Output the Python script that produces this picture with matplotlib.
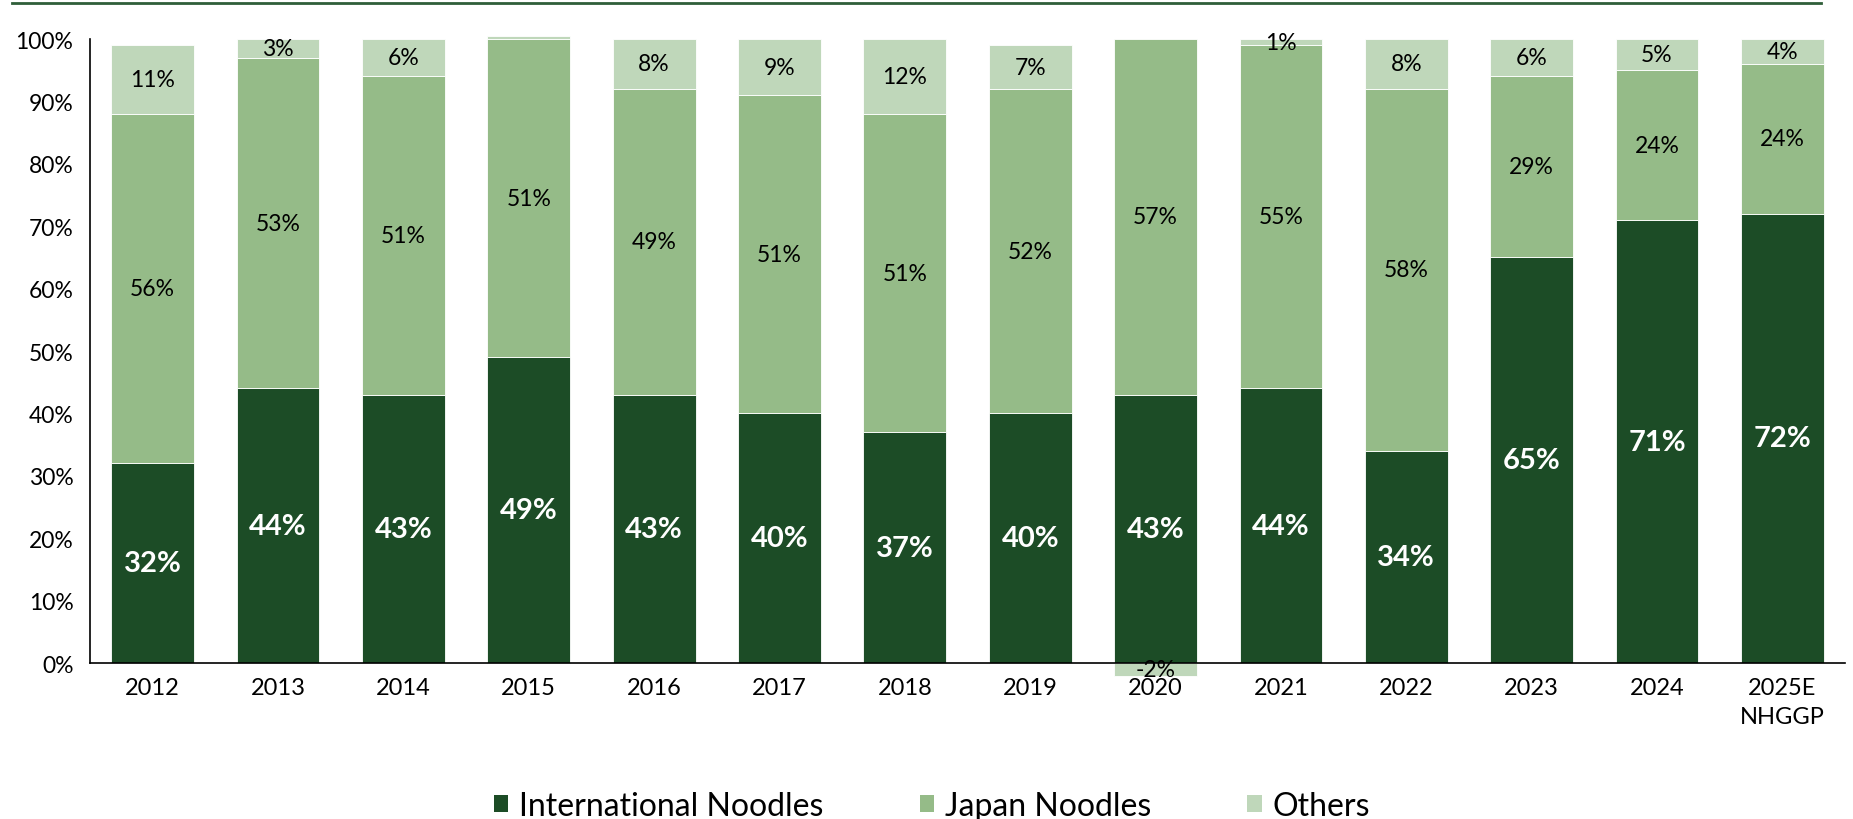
import matplotlib
matplotlib.use("Agg")
import matplotlib.pyplot as plt
from matplotlib.lines import Line2D
from matplotlib.patches import Patch
import numpy as np

plt.rcParams["font.family"] = ["Lato", "DejaVu Sans"]

YEARS = ["2012", "2013", "2014", "2015", "2016", "2017", "2018", "2019",
         "2020", "2021", "2022", "2023", "2024", "2025E\nNHGGP"]
INTERNATIONAL = [32, 44, 43, 49, 43, 40, 37, 40, 43, 44, 34, 65, 71, 72]
JAPAN = [56, 53, 51, 51, 49, 51, 51, 52, 57, 55, 58, 29, 24, 24]
OTHERS = [11, 3, 6, 0.5, 8, 9, 12, 7, -2, 1, 8, 6, 5, 4]

SERIES = ["International Noodles", "Japan Noodles", "Others"]
COLORS = ["#1C4C26", "#95BB88", "#BFD7BA"]

fig = plt.figure(figsize=(18.53, 8.2), dpi=100)
ax = fig.add_axes([0.0486, 0.1902, 0.9471, 0.761])

x = np.arange(len(YEARS))
intl = np.array(INTERNATIONAL, float)
jap = np.array(JAPAN, float)
oth = np.array(OTHERS, float)
oth_bottom = np.where(oth >= 0, intl + jap, 0)

w = 0.66
kw = dict(width=w, edgecolor="white", linewidth=0.6, clip_on=False, zorder=2)
b1 = ax.bar(x, intl, color=COLORS[0], **kw)
b2 = ax.bar(x, jap, bottom=intl, color=COLORS[1], **kw)
b3 = ax.bar(x, oth, bottom=oth_bottom, color=COLORS[2], **kw)

# segment labels, centred in each segment
for i in x:
    ax.text(i, intl[i] / 2, f"{intl[i]:.0f}%", ha="center", va="center",
            color="white", fontsize=21, fontweight="bold", zorder=3)
    ax.text(i, intl[i] + jap[i] / 2, f"{jap[i]:.0f}%", ha="center",
            va="center", color="black", fontsize=16.5, zorder=3)
    if abs(oth[i]) >= 1:
        ax.text(i, oth_bottom[i] + oth[i] / 2, f"{oth[i]:.0f}%",
                ha="center", va="center", color="black", fontsize=16.5,
                zorder=3)

ax.set_xlim(-0.5, len(YEARS) - 0.5)
ax.set_ylim(0, 100)
ax.set_yticks(range(0, 101, 10))
ax.set_yticklabels([f"{v}%" for v in range(0, 101, 10)])
ax.set_xticks(x)
ax.set_xticklabels(YEARS, linespacing=1.5)
ax.tick_params(axis="both", length=0)
ax.tick_params(axis="y", pad=12, labelsize=16.5)
ax.tick_params(axis="x", pad=10, labelsize=17)
for s in ["top", "right"]:
    ax.spines[s].set_visible(False)
ax.spines["left"].set_linewidth(1.2)
ax.spines["bottom"].set_linewidth(1.2)
ax.spines["bottom"].set_zorder(4)

# thin rule across the top of the figure
fig.add_artist(Line2D([12 / 1853, 1821 / 1853], [1 - 4 / 820, 1 - 4 / 820],
                      color="#2F5E39", linewidth=2))

handles = [Patch(facecolor=c, edgecolor="none") for c in COLORS]
fig.legend(handles, SERIES, loc="center", bbox_to_anchor=(0.503, 0.016),
           ncol=3, frameon=False, fontsize=23, handlelength=0.45,
           handleheight=0.45, handletextpad=0.35, columnspacing=3.0)

fig.savefig("out.png", dpi=100)
